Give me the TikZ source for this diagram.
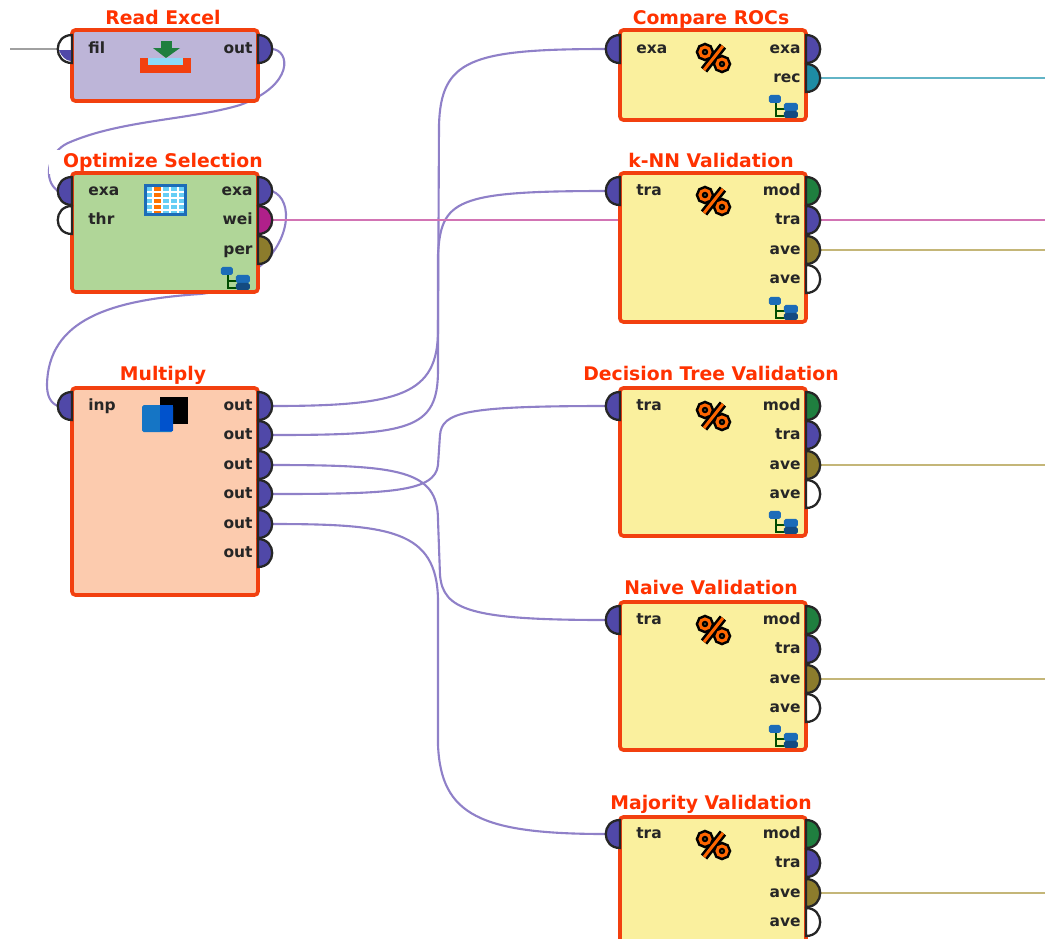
\documentclass[tikz,border=0pt]{standalone}
\usepackage{xcolor}
\usepackage{fontspec}
\setmainfont{DejaVu Sans}
\usetikzlibrary{arrows.meta,positioning,backgrounds,calc}
\definecolor{frame}{HTML}{F2400F}
\definecolor{titlered}{HTML}{FF3200}
\definecolor{readbg}{HTML}{BDB5D8}
\definecolor{optbg}{HTML}{B0D698}
\definecolor{multbg}{HTML}{FCCBAE}
\definecolor{valbg}{HTML}{FAF09E}
\definecolor{exa}{HTML}{5048A8}
\definecolor{modp}{HTML}{1F7F3F}
\definecolor{weip}{HTML}{B0208A}
\definecolor{avep}{HTML}{8C7C2C}
\definecolor{recp}{HTML}{1E8CA4}
\definecolor{wire}{HTML}{8F80C8}
\definecolor{weiwire}{HTML}{D274B4}
\definecolor{avewire}{HTML}{C4B678}
\definecolor{recwire}{HTML}{62B4C6}
\definecolor{filwire}{HTML}{A0A0A0}
\definecolor{iconblue}{HTML}{1C6CB8}
\tikzset{
  opbox/.style={draw=frame,line width=2.1pt,rounded corners=2pt,minimum width=3.72cm,anchor=north west,inner sep=0pt,outer sep=0pt},
  optitle/.style={text=titlered,fill=white,font=\fontsize{10.7}{11}\selectfont\bfseries,inner xsep=8pt,inner ysep=1.5pt,anchor=base},
  portline/.style={draw=black!85,line width=1.3pt},
  portlabel/.style={font=\fontsize{8.8}{9}\selectfont\bfseries,text=black!85,inner sep=0pt,text height=4.8pt,text depth=0pt},
  wireline/.style={wire,line width=1.2pt},
  percenticon/.pic={
    \foreach \pcol/\pw in {black/4.6pt,orange!80!red/1.7pt}{
      \draw[\pcol,line width=\pw] (-8,-6) circle [radius=5];
      \draw[\pcol,line width=\pw] (9,6) circle [radius=5];
      \draw[\pcol,line width=\pw] (10,-12) -- (-9,12);
    }
  },
  treeicon/.pic={
    \draw[black!70!green,line width=1.1pt] (-30,-18) |- (-20,-4);
    \draw[black!70!green,line width=1.1pt] (-30,-11) -- (-20,-11);
    \fill[iconblue,rounded corners=1pt] (-37,-25) rectangle (-25,-17);
    \fill[iconblue,rounded corners=1pt] (-22,-17) rectangle (-8,-9);
    \fill[iconblue!70!black,rounded corners=1pt] (-22,-9) rectangle (-8,-2);
  }
}
% one half round port on the left or right side of a box
\newcommand{\inport}[5]{
  \begin{scope}[shift={(#1.north west)}]
    \draw[portline,fill=#4] (0,#3-14) .. controls (-19,#3-14) and (-19,#3+14) .. (0,#3+14) -- cycle;
    \coordinate (#1-#2) at (-14,#3);
    \node[portlabel,anchor=west] (#1-#2-l) at (16,#3) {#5};
  \end{scope}
}
\newcommand{\outport}[5]{
  \begin{scope}[shift={(#1.north east)}]
    \draw[portline,fill=#4] (0,#3-14) .. controls (19,#3-14) and (19,#3+14) .. (0,#3+14) -- cycle;
    \coordinate (#1-#2) at (14,#3);
    \node[portlabel,anchor=east] (#1-#2-l) at (-5,#3) {#5};
  \end{scope}
}

\begin{document}
\begin{tikzpicture}[x=0.02cm,y=-0.02cm]
\useasboundingbox (0,0) rectangle (1045,938);
\clip (0,0) rectangle (1045,938);

% operator boxes, left column
\node[opbox,fill=readbg,minimum height=1.42cm] (read) at (72,30) {};
\node[opbox,fill=optbg,minimum height=2.38cm] (opt) at (72,173) {};
\node[opbox,fill=multbg,minimum height=4.14cm] (mult) at (72,388) {};
% right column
\node[opbox,fill=valbg,minimum height=1.8cm] (cmp) at (620,30) {};
\node[opbox,fill=valbg,minimum height=2.98cm] (knn) at (620,173) {};
\foreach \bname/\by in {dtree/388,naive/602,major/817}{
  \node[opbox,fill=valbg,minimum height=2.96cm] (\bname) at (620,\by) {};
}

% ports
\inport{read}{fil}{19}{white}{fil}
\outport{read}{out}{19}{exa}{out}
\fill[exa] (59,50) -- (71,50) -- (71,61) .. controls (66,61) and (61,56) .. cycle;

\inport{opt}{exain}{18}{exa}{exa}
\inport{opt}{thr}{47}{white}{thr}
\foreach \pname/\py/\pcol in {exa/18/exa,wei/47/weip,per/77/avep}{
  \outport{opt}{\pname}{\py}{\pcol}{\pname}
}

\inport{mult}{inp}{18}{exa}{inp}
\foreach \pname/\py in {out1/18,out2/47,out3/77,out4/106,out5/136,out6/165}{
  \outport{mult}{\pname}{\py}{exa}{out}
}

\inport{cmp}{exain}{19}{exa}{exa}
\outport{cmp}{exa}{19}{exa}{exa}
\outport{cmp}{rec}{48}{recp}{rec}

\foreach \bname/\btop in {knn/18,dtree/18,naive/18,major/17}{
  \inport{\bname}{train}{\btop}{exa}{tra}
  \outport{\bname}{mod}{\btop}{modp}{mod}
  \outport{\bname}{tra}{\btop+29}{exa}{tra}
  \outport{\bname}{ave}{\btop+59}{avep}{ave}
  \outport{\bname}{ave2}{\btop+88}{white}{ave}
}

% icons
\foreach \bname in {cmp,knn,dtree,naive,major}{
  \pic at ($(\bname.north)+(0,28)$) {percenticon};
}
\foreach \bname in {cmp,opt,knn,dtree,naive}{
  \pic at (\bname.south east) {treeicon};
}
% read icon
\fill[modp] (161,41) rectangle (172,48);
\fill[modp] (153,48) -- (180,48) -- (166,58) -- cycle;
\fill[frame] (140,58) -- (191,58) -- (191,73) -- (140,73) -- cycle;
\fill[cyan!45!white] (148,58) rectangle (183,65);
% table icon
\fill[iconblue] (144,184) rectangle (187,216);
\fill[cyan!60!white] (147,187) rectangle (184,213);
\fill[orange!90!red] (153,187) rectangle (162,213);
\foreach \gy in {192,198,204,210}{
  \draw[white,line width=0.9pt] (147,\gy) -- (184,\gy);
}
\foreach \gx in {153,162,170,178}{
  \draw[white,line width=0.9pt] (\gx,187) -- (\gx,213);
}
% multiply icon
\fill[black] (160,397) rectangle (188,424);
\fill[cyan!55!blue,rounded corners=1pt] (142,405) rectangle (173,432);
\fill[blue!60!cyan!80!black] (160,405) rectangle (173,431);

% connectors go behind the boxes
\coordinate (inend) at (10,49);
\coordinate (rightend) at (1045,0);
\begin{scope}[on background layer]
  \draw[filwire,line width=1.2pt] (inend) -- (read-fil);
  \draw[wireline] (read-out) .. controls (290,50) and (295,85) .. (240,105) .. controls (190,120) and (120,120) .. (68,143) .. controls (48,152) and (42,180) .. (opt-exain);
  \draw[wireline] (opt-exa) .. controls (295,200) and (290,245) .. (255,270) .. controls (235,285) and (220,292) .. (200,294) .. controls (110,300) and (48,320) .. (47,385) .. controls (47,395) and (50,403) .. (mult-inp);
  \draw[wireline] (mult-out1) .. controls (400,406) and (438,395) .. (438,330) -- (439,125) .. controls (441,60) and (470,49) .. (cmp-exain);
  \draw[wireline] (mult-out2) .. controls (410,435) and (438,430) .. (438,370) -- (438,255) .. controls (441,200) and (455,191) .. (knn-train);
  \draw[wireline] (mult-out3) .. controls (400,465) and (438,470) .. (438,520) -- (440,575) .. controls (443,610) and (470,620) .. (naive-train);
  \draw[wireline] (mult-out4) .. controls (390,494) and (435,492) .. (438,465) -- (440,435) .. controls (442,412) and (465,406) .. (dtree-train);
  \draw[wireline] (mult-out5) .. controls (390,524) and (437,530) .. (438,600) -- (438,745) .. controls (441,815) and (480,834) .. (major-train);
  \draw[weiwire,line width=1.2pt] (opt-wei) -- (opt-wei -| knn.west);
  \draw[recwire,line width=1.2pt] (cmp-rec) -- (cmp-rec -| rightend);
  \draw[weiwire,line width=1.2pt] (knn-tra) -- (knn-tra -| rightend);
  \foreach \bname in {knn,dtree,naive,major}{
    \draw[avewire,line width=1.2pt] (\bname-ave) -- (\bname-ave -| rightend);
  }
  % titles sit over the connectors but under the box frames
  \foreach \bname/\btitle/\bgap in {read/Read Excel/-6,opt/Optimize Selection/-6,mult/Multiply/-8,cmp/Compare ROCs/-6,knn/k-NN Validation/-6,dtree/Decision Tree Validation/-8,naive/Naive Validation/-8,major/Majority Validation/-8}{
    \node[optitle] (\bname-t) at ($(\bname.north)+(-2,\bgap)$) {\btitle};
  }
\end{scope}
\end{tikzpicture}
\end{document}
